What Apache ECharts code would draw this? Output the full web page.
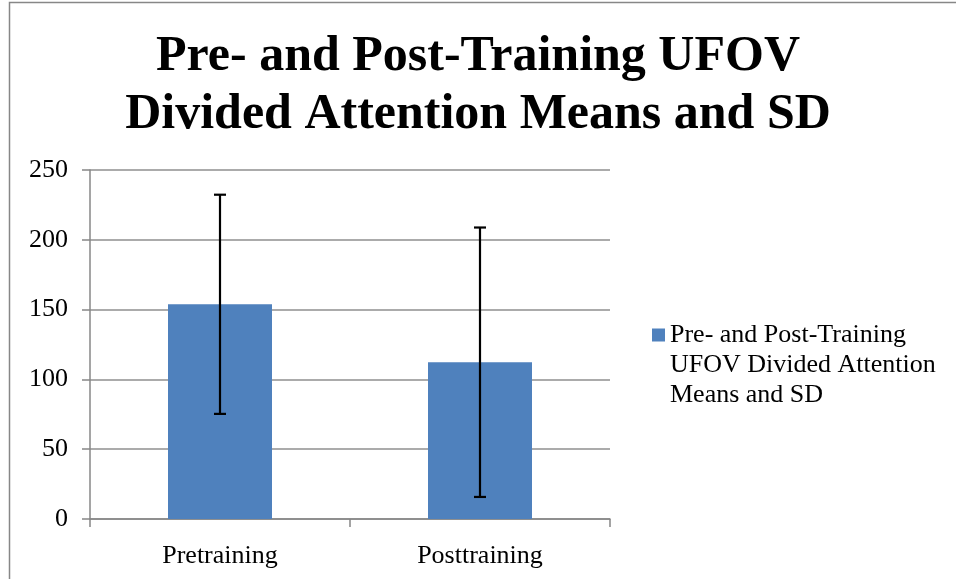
<!DOCTYPE html>
<html>
<head>
<meta charset="utf-8">
<script src="https://cdn.jsdelivr.net/npm/echarts@6/dist/echarts.min.js"></script>
<style>html,body{margin:0;padding:0;background:#fff}#c{width:956px;height:579px}</style>
</head>
<body>
<div id="c"></div>
<script>
const categories = ['Pretraining', 'Posttraining'];
const means = [153.8, 112.3];
const sds = [78.5, 96.5];
const yTicks = [0, 50, 100, 150, 200, 250];
const seriesName = 'Pre- and Post-Training UFOV Divided Attention Means and SD';
const legendLines = ['Pre- and Post-Training', 'UFOV Divided Attention', 'Means and SD'];
const titleText = 'Pre- and Post-Training UFOV\nDivided Attention Means and SD';

const FONT = 'Liberation Serif';
const chart = echarts.init(document.getElementById('c'), null, {renderer: 'canvas'});

const errData = categories.map((c, i) => [i, means[i] - sds[i], means[i] + sds[i]]);

chart.setOption({
  animation: false,
  backgroundColor: '#fff',
  textStyle: {fontFamily: FONT},
  title: {
    text: titleText,
    left: 'center',
    top: 23,
    textStyle: {fontFamily: FONT, fontSize: 50, fontWeight: 'bold', color: '#000', lineHeight: 58}
  },
  graphic: [{
    type: 'rect', silent: true, z: -1,
    shape: {x: 9.5, y: 2.5, width: 980, height: 600},
    style: {fill: 'none', stroke: '#878787', lineWidth: 1.5}
  }],
  legend: {
    data: [seriesName],
    left: 652,
    top: 260,
    padding: 0,
    itemWidth: 13,
    itemHeight: 13,
    icon: 'rect',
    formatter: () => '\n\n' + legendLines.join('\n'),
    textStyle: {fontFamily: FONT, fontSize: 26, color: '#000', lineHeight: 30}
  },
  grid: {left: 90, right: 346, top: 170, bottom: 60, containLabel: false},
  xAxis: {
    type: 'category',
    data: categories,
    axisLine: {lineStyle: {color: '#878787', width: 1.5}},
    axisTick: {show: true, length: 8, alignWithLabel: false, lineStyle: {color: '#878787', width: 1.5}},
    axisLabel: {fontFamily: FONT, fontSize: 26, color: '#000', margin: 24}
  },
  yAxis: {
    type: 'value',
    min: yTicks[0],
    max: yTicks[yTicks.length - 1],
    interval: 50,
    axisLine: {show: true, lineStyle: {color: '#878787', width: 1.5}},
    axisTick: {show: true, length: 8, lineStyle: {color: '#878787', width: 1.5}},
    splitLine: {show: true, lineStyle: {color: '#8f8f8f', width: 1.5}},
    axisLabel: {fontFamily: FONT, fontSize: 26, color: '#000', margin: 22}
  },
  series: [{
    name: seriesName,
    type: 'bar',
    data: means,
    barWidth: '40%',
    itemStyle: {color: '#4f81bd'}
  }, {
    name: 'SD',
    type: 'custom',
    data: errData,
    z: 10,
    renderItem: function (params, api) {
      const x = api.value(0);
      const lo = api.coord([x, api.value(1)]);
      const hi = api.coord([x, api.value(2)]);
      const cap = 6;
      const st = {stroke: '#000', lineWidth: 2.2};
      return {
        type: 'group',
        children: [
          {type: 'line', shape: {x1: lo[0], y1: lo[1], x2: hi[0], y2: hi[1]}, style: st},
          {type: 'line', shape: {x1: hi[0] - cap, y1: hi[1], x2: hi[0] + cap, y2: hi[1]}, style: st},
          {type: 'line', shape: {x1: lo[0] - cap, y1: lo[1], x2: lo[0] + cap, y2: lo[1]}, style: st}
        ]
      };
    }
  }]
});
</script>
</body>
</html>
